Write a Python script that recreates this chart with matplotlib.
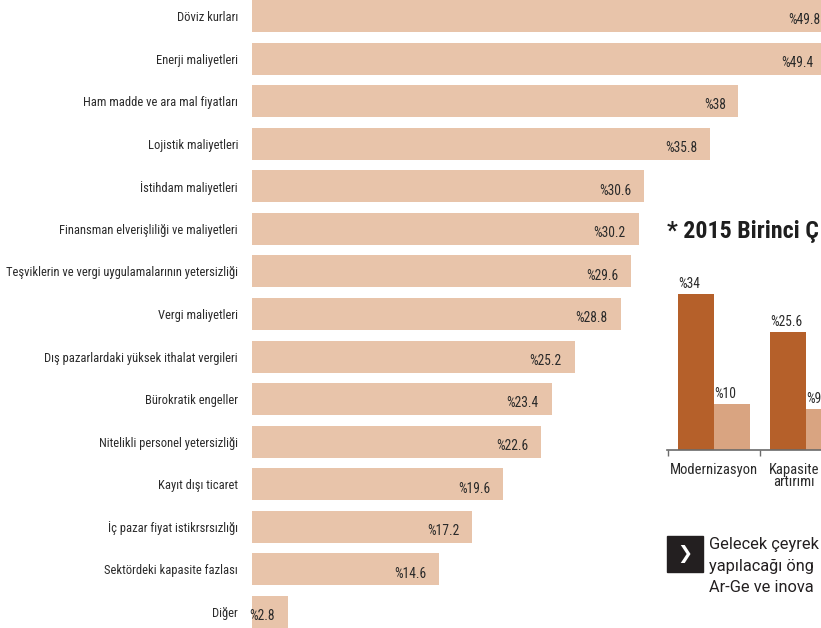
import matplotlib
matplotlib.use("Agg")
import matplotlib.pyplot as plt
import matplotlib.transforms as mtransforms
from matplotlib import font_manager as fm
from matplotlib.patches import Rectangle

# ---------------- data ----------------
categories = [
    "Döviz kurları",
    "Enerji maliyetleri",
    "Ham madde ve ara mal fiyatları",
    "Lojistik maliyetleri",
    "İstihdam maliyetleri",
    "Finansman elverişliliği ve maliyetleri",
    "Teşviklerin ve vergi uygulamalarının yetersizliği",
    "Vergi maliyetleri",
    "Dış pazarlardaki yüksek ithalat vergileri",
    "Bürokratik engeller",
    "Nitelikli personel yetersizliği",
    "Kayıt dışı ticaret",
    "İç pazar fiyat istikrsrsızlığı",
    "Sektördeki kapasite fazlası",
    "Diğer",
]
values = [49.8, 49.4, 38, 35.8, 30.6, 30.2, 29.6, 28.8, 25.2, 23.4, 22.6, 19.6, 17.2, 14.6, 2.8]

inset_title = "* 2015 Birinci Ç"
inset_categories = ["Modernizasyon", "Kapasite\nartırımı"]
inset_series_a = [34, 25.6]
inset_series_b = [10, 9]
note_lines = ["Gelecek çeyrek", "yapılacağı öng", "Ar-Ge ve inova"]

# ---------------- fonts ----------------
names = {f.name for f in fm.fontManager.ttflist}
pref = ["Roboto Condensed", "Noto Sans Condensed", "Liberation Sans Narrow",
        "Noto Sans SemiCondensed", "DejaVu Sans Condensed", "Open Sans Condensed"]
cond = next((p for p in pref if p in names), None)
if cond is None:
    cond = next((nm for nm in sorted(names) if ("Condensed" in nm or "Narrow" in nm)
                 and "Light" not in nm and "Thin" not in nm), None)
if cond is None:
    cond = "Roboto"
COND = dict(family=[cond, "DejaVu Sans"])
heavy = next((f"{cond} {w}" for w in ["Black", "ExtraBold"] if f"{cond} {w}" in names), None)
TITLE = dict(family=[heavy, "DejaVu Sans"], fontweight="heavy") if heavy else \
    dict(family=[cond, "DejaVu Sans"], fontweight="bold")
NOTE = dict(family=["Roboto", "DejaVu Sans"])

TXT = "#2a2a2a"
BAR = "#E8C4AA"
DARK = "#B5602A"
LIGHT = "#D9A481"

W, H = 821, 628
fig = plt.figure(figsize=(W / 100, H / 100), dpi=100)
fig.patch.set_facecolor("white")
renderer = fig.canvas.get_renderer()


def size_for(texts, targets, **kw):
    """font size so that every text fits its target pixel width"""
    best = 100.0
    for s, tw in zip(texts, targets):
        t = fig.text(0, 0, s, fontsize=10, **kw)
        w = t.get_window_extent(renderer).width
        t.remove()
        best = min(best, 10.0 * tw / w)
    return best


lab_fs = size_for(["Döviz kurları", "Teşviklerin ve vergi uygulamalarının yetersizliği",
                   "Ham madde ve ara mal fiyatları"], [68, 230, 170], **COND)
val_fs = size_for(["%49.8"], [32], **COND)
tick_fs = size_for(["Modernizasyon"], [88], **COND)
title_fs = size_for([inset_title], [152], **TITLE)
note_fs = size_for(note_lines, [110, 110, 110], **NOTE)

# ---------------- main chart ----------------
n = len(categories)
left_px = 252
ax = fig.add_axes([left_px / W, 0, 1 - left_px / W, 1])
XMAX = 44.45
ypos = list(range(n))
ax.barh(ypos, values, height=0.75, color=BAR, linewidth=0)
ax.set_yticks(ypos)
ax.set_yticklabels(categories, color=TXT, fontsize=lab_fs, **COND)
ax.tick_params(axis="y", length=0, pad=10)
ax.set_xticks([])
ax.set_xlim(0, XMAX)
ax.set_ylim(n - 1 + 0.376, -0.376)
for s in ax.spines.values():
    s.set_visible(False)

vmax = max(values)
for y, v in zip(ypos, values):
    if v > XMAX:
        xt = XMAX - 0.05 - (vmax - v) * 1.4
    else:
        xt = v - 1.0
    ax.text(xt, y + 0.1, f"%{v:g}", ha="right", va="center",
            fontsize=val_fs, color=TXT, **COND)

# ---------------- inset title ----------------
fig.text(667 / W, 1 - 232 / H, inset_title, ha="left", va="center",
         fontsize=title_fs, color="#1e1e1e", **TITLE)

# ---------------- inset bar chart ----------------
base_px, top_px = 450, 280
ix0 = 667
iax = fig.add_axes([ix0 / W, 1 - base_px / H, (W - ix0) / W, (base_px - top_px) / H])
unit = 92.0
xl = -0.51
bw = 36 / unit
xs = list(range(len(inset_categories)))
iax.bar([x - bw / 2 for x in xs], inset_series_a, width=bw, color=DARK, linewidth=0)
iax.bar([x + bw / 2 for x in xs], inset_series_b, width=bw, color=LIGHT, linewidth=0)
for x, a, b in zip(xs, inset_series_a, inset_series_b):
    iax.annotate(f"%{a:g}", (x - bw, a), xytext=(0, 2), textcoords="offset points",
                 ha="left", va="bottom", fontsize=val_fs, color=TXT, **COND)
    iax.annotate(f"%{b:g}", (x, b), xytext=(0, 2), textcoords="offset points",
                 ha="left", va="bottom", fontsize=val_fs, color=TXT, **COND)
for s in ["top", "right", "left"]:
    iax.spines[s].set_visible(False)
iax.spines["bottom"].set_color("#6b6b6b")
iax.spines["bottom"].set_linewidth(1.2)
iax.set_yticks([])
iax.set_xticks([-0.5, 0.5, 1.5])
iax.set_xticklabels([])
iax.tick_params(axis="x", which="major", length=4, width=1, color="#6b6b6b", direction="out")
iax.set_xlim(xl, xl + (W - ix0) / unit)
iax.set_ylim(0, (base_px - top_px) / 4.6)
iax.patch.set_alpha(0)

# category labels below the inset axis (kept inside the figure)
lab_tr = mtransforms.blended_transform_factory(
    iax.transData, mtransforms.offset_copy(iax.transAxes, fig=fig, y=-9.5, units="points"))
for x, lab in zip(xs, inset_categories):
    t = iax.text(x, 0, lab, transform=lab_tr, ha="center", va="top",
                 fontsize=tick_fs, color=TXT, linespacing=0.8, clip_on=False, **COND)
    bb = t.get_window_extent(renderer)
    if bb.x1 > W - 2:
        t.set_position((x - (bb.x1 - (W - 2)) / unit, 0))

# ---------------- note box ----------------
fig.patches.append(Rectangle((667 / W, 1 - 572 / H), 36 / W, 36 / H,
                             transform=fig.transFigure, color="#231F20", zorder=3))
fig.text(685 / W, 1 - 554 / H, "❯", ha="center", va="center", fontsize=13,
         color="white", fontweight="bold", family=["DejaVu Sans"], zorder=4)
for i, line in enumerate(note_lines):
    fig.text(709 / W, 1 - (544 + 22 * i) / H, line, ha="left", va="center",
             fontsize=note_fs, color="#231F20", **NOTE)

fig.savefig("out.png", dpi=100, facecolor="white")
